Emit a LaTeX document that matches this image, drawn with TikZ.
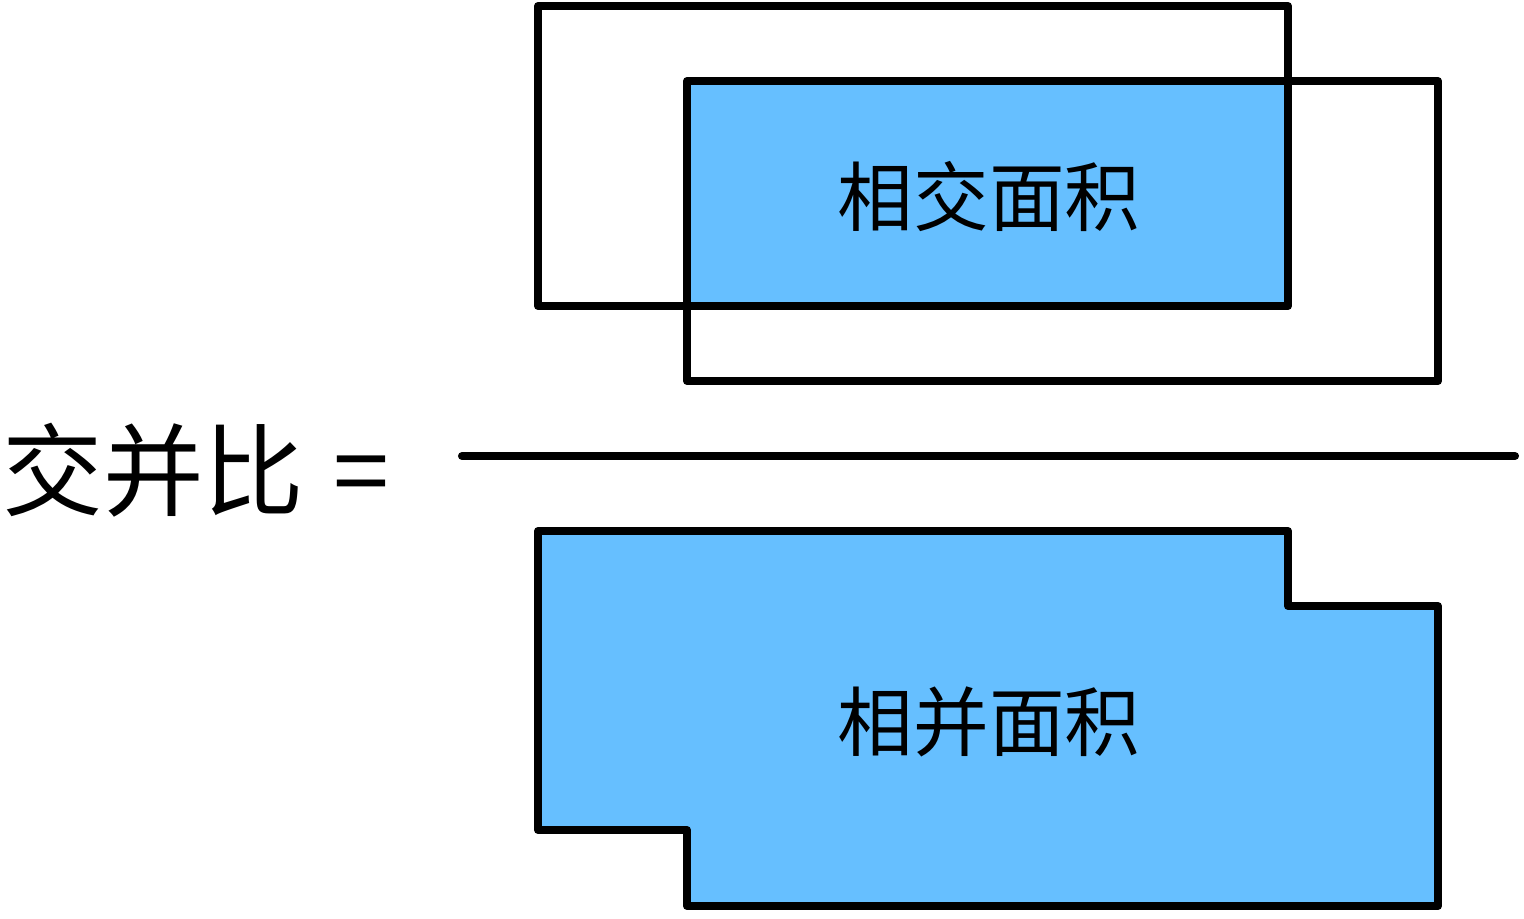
\documentclass[tikz,border=0pt]{standalone}
\usepackage{fontspec}
\newfontfamily\cjk{Noto Sans CJK SC}
\usetikzlibrary{positioning, calc}
\definecolor{IoUBlue}{RGB}{102,191,255}

\begin{document}
\begin{tikzpicture}[
      x=0.01cm, y=-0.01cm,
      every node/.style={inner sep=0pt},
      boxline/.style={draw=black, line width=2.3pt, line join=round, line cap=round},
      areafill/.style={fill=IoUBlue},
      arealabel/.style={font=\cjk\fontsize{21.5pt}{24pt}\selectfont},
    ]
      \useasboundingbox (0,0) rectangle (1524,918);
      % Top: two overlapping boxes, overlap shaded
      \fill[areafill] (687,81) rectangle (1288,306);
      \draw[boxline] (538,6) rectangle (1288,306);
      \draw[boxline] (687,81) rectangle (1438,381);
      \node[arealabel] (inter) at (989,197) {相交面积};
      % Fraction bar
      \coordinate (barL) at (462,456);
      \coordinate (barR) at (1515,456);
      \draw[boxline] (barL) -- (barR);
      \node[font=\cjk\fontsize{28.6pt}{30pt}\selectfont, anchor=west] (iou) at (2,470)
        {交并比\hspace{0.29em}=};
      % Bottom: union outline
      \draw[boxline, areafill] (538,531) -- (1288,531) -- (1288,606) -- (1438,606)
        -- (1438,906) -- (687,906) -- (687,830) -- (538,830) -- cycle;
      \node[arealabel] (union) at (989,722) {相并面积};
    \end{tikzpicture}
\end{document}
